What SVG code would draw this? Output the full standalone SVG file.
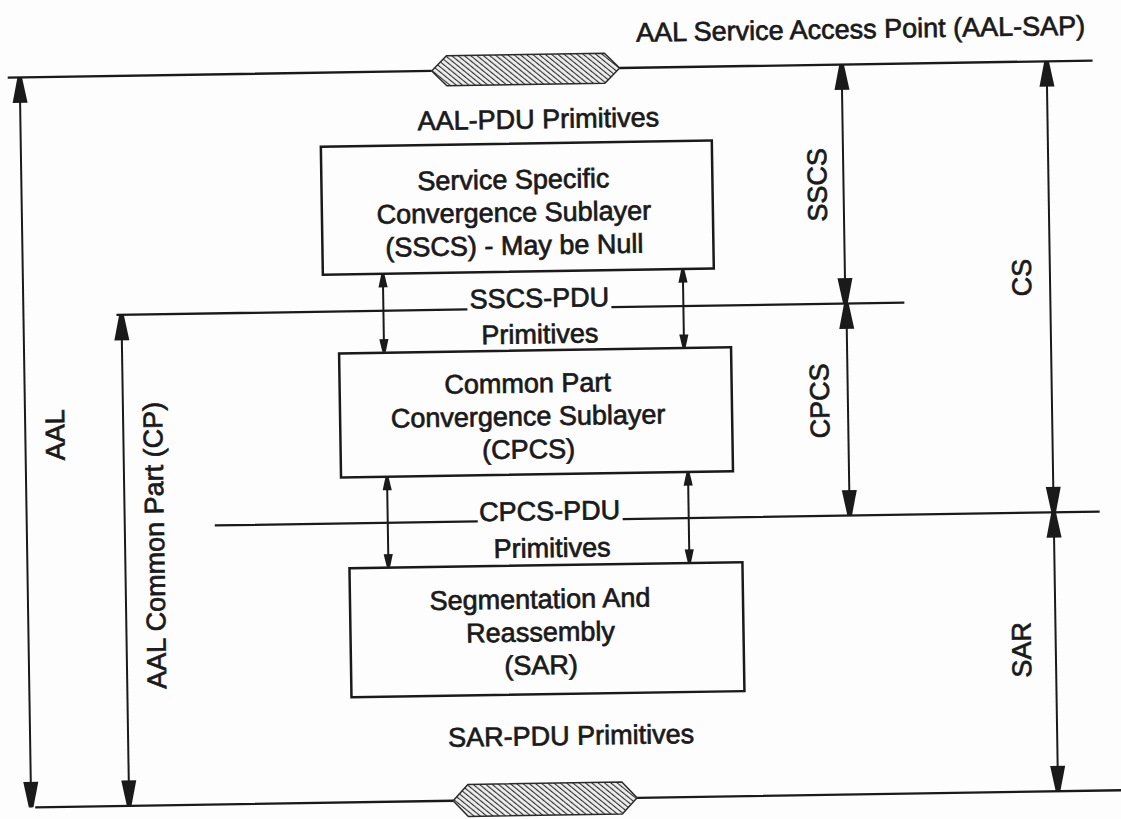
<svg xmlns="http://www.w3.org/2000/svg" width="1121" height="819" viewBox="0 0 1121 819">
  <style>
    .t { font-family: "Liberation Sans", Arial, sans-serif; font-size: 27px; fill: #1a1a1a; stroke: #1a1a1a; stroke-width: 0.7; }
    .m { text-anchor: middle; }
    .v { text-anchor: middle; dominant-baseline: central; }
    .ln { stroke: #1a1a1a; stroke-width: 2.3; fill: none; }
    .box { stroke: #1a1a1a; stroke-width: 2.5; fill: none; }
    .dim { stroke: #1a1a1a; stroke-width: 2; fill: none; marker-start: url(#big); marker-end: url(#big); }
    .sm { stroke: #1a1a1a; stroke-width: 2; fill: none; marker-start: url(#small); marker-end: url(#small); }
    .hex { fill: url(#hatch); stroke: #2a2a2a; stroke-width: 1.5; }
  </style>
  <defs>
    <marker id="big" markerUnits="userSpaceOnUse" markerWidth="30" markerHeight="20" viewBox="-24 -8 26 16" refX="0" refY="0" orient="auto-start-reverse">
      <path d="M0,-2 L0,2 L-22,6.5 L-22,-6.5 Z" fill="#1a1a1a"/>
    </marker>
    <marker id="small" markerUnits="userSpaceOnUse" markerWidth="16" markerHeight="12" viewBox="-13 -5 14 10" refX="0" refY="0" orient="auto-start-reverse">
      <path d="M0,-1.5 L0,1.5 L-11,4 L-11,-4 Z" fill="#1a1a1a"/>
    </marker>
    <pattern id="hatch" patternUnits="userSpaceOnUse" width="4" height="4" patternTransform="rotate(-50)">
      <rect width="4" height="4" fill="#eeeeee"/>
      <line x1="0" y1="0" x2="0" y2="4" stroke="#2e2e2e" stroke-width="2.2"/>
    </pattern>
  </defs>
  <rect width="1121" height="819" fill="#fdfdfd"/>
  <g transform="rotate(-0.9 560 410)">
    <g id="title">
      <text class="t" x="642" y="43">AAL Service Access Point (AAL-SAP)</text>
    </g>
    <g id="boundaries">
      <path class="ln" d="M13,69 H437 M625,69 H1098"/>
      <path class="hex" d="M437,69 L452,54 H610 L625,69 L610,84 H452 Z"/>
      <path class="ln" d="M29,799 H447 M631,799 H1115"/>
      <path class="hex" d="M447,799 L462,783 H616 L631,799 L616,815 H462 Z"/>
    </g>
    <g id="aal-pdu">
      <text class="t m" x="543" y="128">AAL-PDU Primitives</text>
    </g>
    <g id="sscs">
      <rect class="box" x="325" y="143" width="391" height="128"/>
      <text class="t m" x="517" y="188">Service Specific</text>
      <text class="t m" x="517" y="221">Convergence Sublayer</text>
      <text class="t m" x="517" y="254">(SSCS) - May be Null</text>
    </g>
    <g id="sscs-pdu">
      <path class="ln" d="M118,308 H469 M613,308 H906"/>
      <text class="t m" x="541" y="307">SSCS-PDU</text>
      <text class="t m" x="541" y="343">Primitives</text>
    </g>
    <g id="cpcs">
      <rect class="box" x="340" y="350" width="392" height="124"/>
      <text class="t m" x="528" y="392">Common Part</text>
      <text class="t m" x="528" y="425">Convergence Sublayer</text>
      <text class="t m" x="528" y="458">(CPCS)</text>
    </g>
    <g id="cpcs-pdu">
      <path class="ln" d="M213,520 H476 M621,520 H1098"/>
      <text class="t m" x="548" y="520">CPCS-PDU</text>
      <text class="t m" x="550" y="557">Primitives</text>
    </g>
    <g id="sar">
      <rect class="box" x="347" y="565" width="393" height="129"/>
      <text class="t m" x="537" y="608">Segmentation And</text>
      <text class="t m" x="537" y="641">Reassembly</text>
      <text class="t m" x="537" y="674">(SAR)</text>
    </g>
    <g id="sar-pdu">
      <text class="t m" x="566" y="745">SAR-PDU Primitives</text>
    </g>
    <g id="connectors">
      <line class="sm" x1="385" y1="272" x2="385" y2="349"/>
      <line class="sm" x1="685" y1="272" x2="685" y2="349"/>
      <line class="sm" x1="386" y1="475" x2="386" y2="564"/>
      <line class="sm" x1="687" y1="475" x2="687" y2="564"/>
      <line class="dim" x1="25" y1="69" x2="25" y2="799"/>
      <line class="dim" x1="123" y1="308" x2="123" y2="799"/>
      <line class="dim" x1="847" y1="69" x2="847" y2="308"/>
      <line class="dim" x1="848" y1="308" x2="848" y2="520"/>
      <line class="dim" x1="1052" y1="69" x2="1052" y2="520"/>
      <line class="dim" x1="1052" y1="520" x2="1052" y2="799"/>
    </g>
    <g id="dim-labels">
      <text class="t v" transform="translate(55 427) rotate(-90)">AAL</text>
      <text class="t v" transform="translate(153 539) rotate(-90)">AAL Common Part (CP)</text>
      <text class="t v" transform="translate(821 189) rotate(-90)">SSCS</text>
      <text class="t v" transform="translate(820 405) rotate(-90)">CPCS</text>
      <text class="t v" transform="translate(1024 285) rotate(-90)">CS</text>
      <text class="t v" transform="translate(1018 657) rotate(-90)">SAR</text>
    </g>
  </g>
</svg>
